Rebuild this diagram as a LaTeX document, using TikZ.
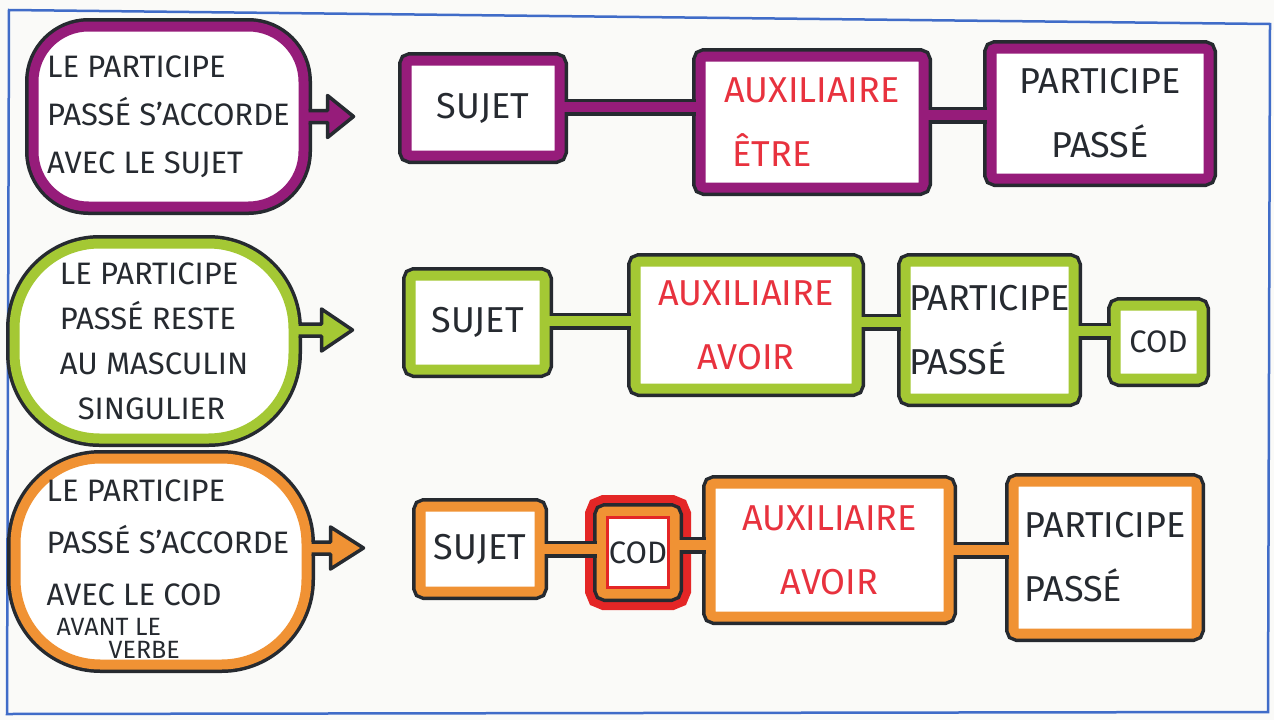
\documentclass[tikz,border=0pt]{standalone}
\usepackage{fontspec}
\setmainfont{Fira Sans}
\usetikzlibrary{calc}
\definecolor{purp}{RGB}{150,28,122}
\definecolor{lime}{RGB}{164,200,52}
\definecolor{orng}{RGB}{240,146,52}
\definecolor{redtxt}{RGB}{232,50,62}
\definecolor{halo}{RGB}{228,38,38}
\definecolor{ink}{RGB}{38,42,48}
\definecolor{frameblue}{RGB}{64,108,200}
\definecolor{paper}{RGB}{250,250,248}
\newcommand\boxfont{\fontsize{36}{64}\selectfont}
\newcommand\codfont{\fontsize{31}{34}\selectfont}
\newcommand\bubfont{\fontsize{31}{48}\selectfont}
\newcommand\linkbox[4]{%
  \draw[ink, line width=17pt] ($(#2.east|-0,#4)+(5,0)$) -- ($(#3.west|-0,#4)+(-5,0)$);
  \draw[#1, line width=10pt] (#2.east|-0,#4) -- (#3.west|-0,#4);}
\newcommand\bubarrow[4]{%
  \fill[#1] ($(#2)+(-3,-6)$) -- ($(#2)+(#3,-6)$) -- ($(#2)+(#3,-21)$) -- ($(#2)+(#3+#4,0)$)
     -- ($(#2)+(#3,21)$) -- ($(#2)+(#3,6)$) -- ($(#2)+(-3,6)$) -- cycle;
  \draw[ink, line width=3.5pt, line join=round] ($(#2)+(5,-6)$) -- ($(#2)+(#3,-6)$) -- ($(#2)+(#3,-21)$)
     -- ($(#2)+(#3+#4,0)$) -- ($(#2)+(#3,21)$) -- ($(#2)+(#3,6)$) -- ($(#2)+(5,6)$);}
\begin{document}
\begin{tikzpicture}[x=1pt,y=-1pt,
  bx/.style={rectangle, rounded corners=4pt, inner sep=0pt, outer sep=0pt, fill=white,
    draw=#1, line width=10pt, preaction={draw=ink, line width=17pt}, text=ink, font=\boxfont},
  bub/.style={bx=#1, font=\bubfont, align=left},
  auxtext/.style={text=redtxt},
  codhalo/.style={rectangle, rounded corners=4pt, inner sep=0pt, outer sep=0pt,
    preaction={draw=halo, line width=33pt}, preaction={draw=ink, line width=17pt},
    fill=white, draw=orng, line width=10pt, text=ink, font=\codfont}]
\fill[paper] (0,0) rectangle (1274,720);
\useasboundingbox (0,0) rectangle (1274,720);
\draw[frameblue, line width=2.5pt] (9,10) -- (1270,24) -- (1268,712) -- (7,714) -- cycle;

% row 1
\node[bub=purp, rounded corners=55pt, minimum width=270pt, minimum height=180pt] (b1) at (168.5,116.5)
  {LE PARTICIPE\\PASSÉ S'ACCORDE\\AVEC LE SUJET};
\node[bx=purp, minimum width=153pt, minimum height=95pt] (s1) at (483,108) {SUJET};
\node[bx=purp, auxtext, align=left, minimum width=223pt, minimum height=131pt] (a1) at (812,122) {AUXILIAIRE\\\hspace*{8pt}ÊTRE};
\node[bx=purp, align=center, minimum width=217pt, minimum height=130pt] (p1) at (1100,113.5) {PARTICIPE\\PASSÉ};

% row 2
\node[bub=lime, rounded corners=85pt, minimum width=279pt, minimum height=195pt, font=\fontsize{31}{45}\selectfont] (b2) at (154,341)
  {LE PARTICIPE\\PASSÉ RESTE\\AU MASCULIN\\\hspace*{18pt}SINGULIER};
\node[bx=lime, minimum width=134pt, minimum height=94pt] (s2) at (477.5,322.5) {SUJET};
\node[bx=lime, auxtext, align=center, minimum width=221pt, minimum height=127pt] (a2) at (746,325) {AUXILIAIRE\\AVOIR};
\node[bx=lime, align=left, minimum width=168pt, minimum height=137pt] (p2) at (989.5,330) {PARTICIPE\\PASSÉ};
\node[bx=lime, font=\codfont, minimum width=86pt, minimum height=73pt] (c2) at (1158.5,342) {COD};

% row 3
\node[bub=orng, rounded corners=85pt, minimum width=291pt, minimum height=206pt] (b3) at (161,561.5) {};
\node[text=ink, align=left, inner sep=0pt, font=\fontsize{31}{52}\selectfont] (t3) at (168,569)
  {LE PARTICIPE\\PASSÉ S'ACCORDE\\AVEC LE COD\\[-22pt]\hspace*{10pt}{\fontsize{25}{30}\selectfont AVANT LE}\\[-29pt]\hspace*{62pt}{\fontsize{25}{30}\selectfont VERBE}};
\node[bx=orng, minimum width=119pt, minimum height=85pt] (s3) at (480,549) {SUJET};
\node[codhalo, minimum width=73pt, minimum height=82pt] (c3) at (638,552.5) {COD};
\draw[halo, line width=2.5pt] ($(c3.north west)+(6,6)$) rectangle ($(c3.south east)+(-6,-6)$);
\node[bx=orng, auxtext, align=center, minimum width=238pt, minimum height=133pt] (a3) at (829.5,550) {AUXILIAIRE\\AVOIR};
\node[bx=orng, align=left, minimum width=183pt, minimum height=152pt] (p3) at (1105,557.5) {PARTICIPE\\PASSÉ};

% connectors
\linkbox{purp}{s1}{a1}{107}
\linkbox{purp}{a1}{p1}{115}
\linkbox{lime}{s2}{a2}{321}
\linkbox{lime}{a2}{p2}{322}
\linkbox{lime}{p2}{c2}{331}
\linkbox{orng}{s3}{c3}{549}
\linkbox{orng}{c3}{a3}{545}
\linkbox{orng}{a3}{p3}{550}

% bubble arrows
\coordinate (e1) at (b1.east);
\coordinate (e2) at ([yshift=11pt]b2.east);
\coordinate (e3) at ([yshift=13.5pt]b3.east);
\bubarrow{purp}{e1}{24}{26}
\bubarrow{lime}{e2}{28}{31}
\bubarrow{orng}{e3}{24}{33}
\end{tikzpicture}
\end{document}
